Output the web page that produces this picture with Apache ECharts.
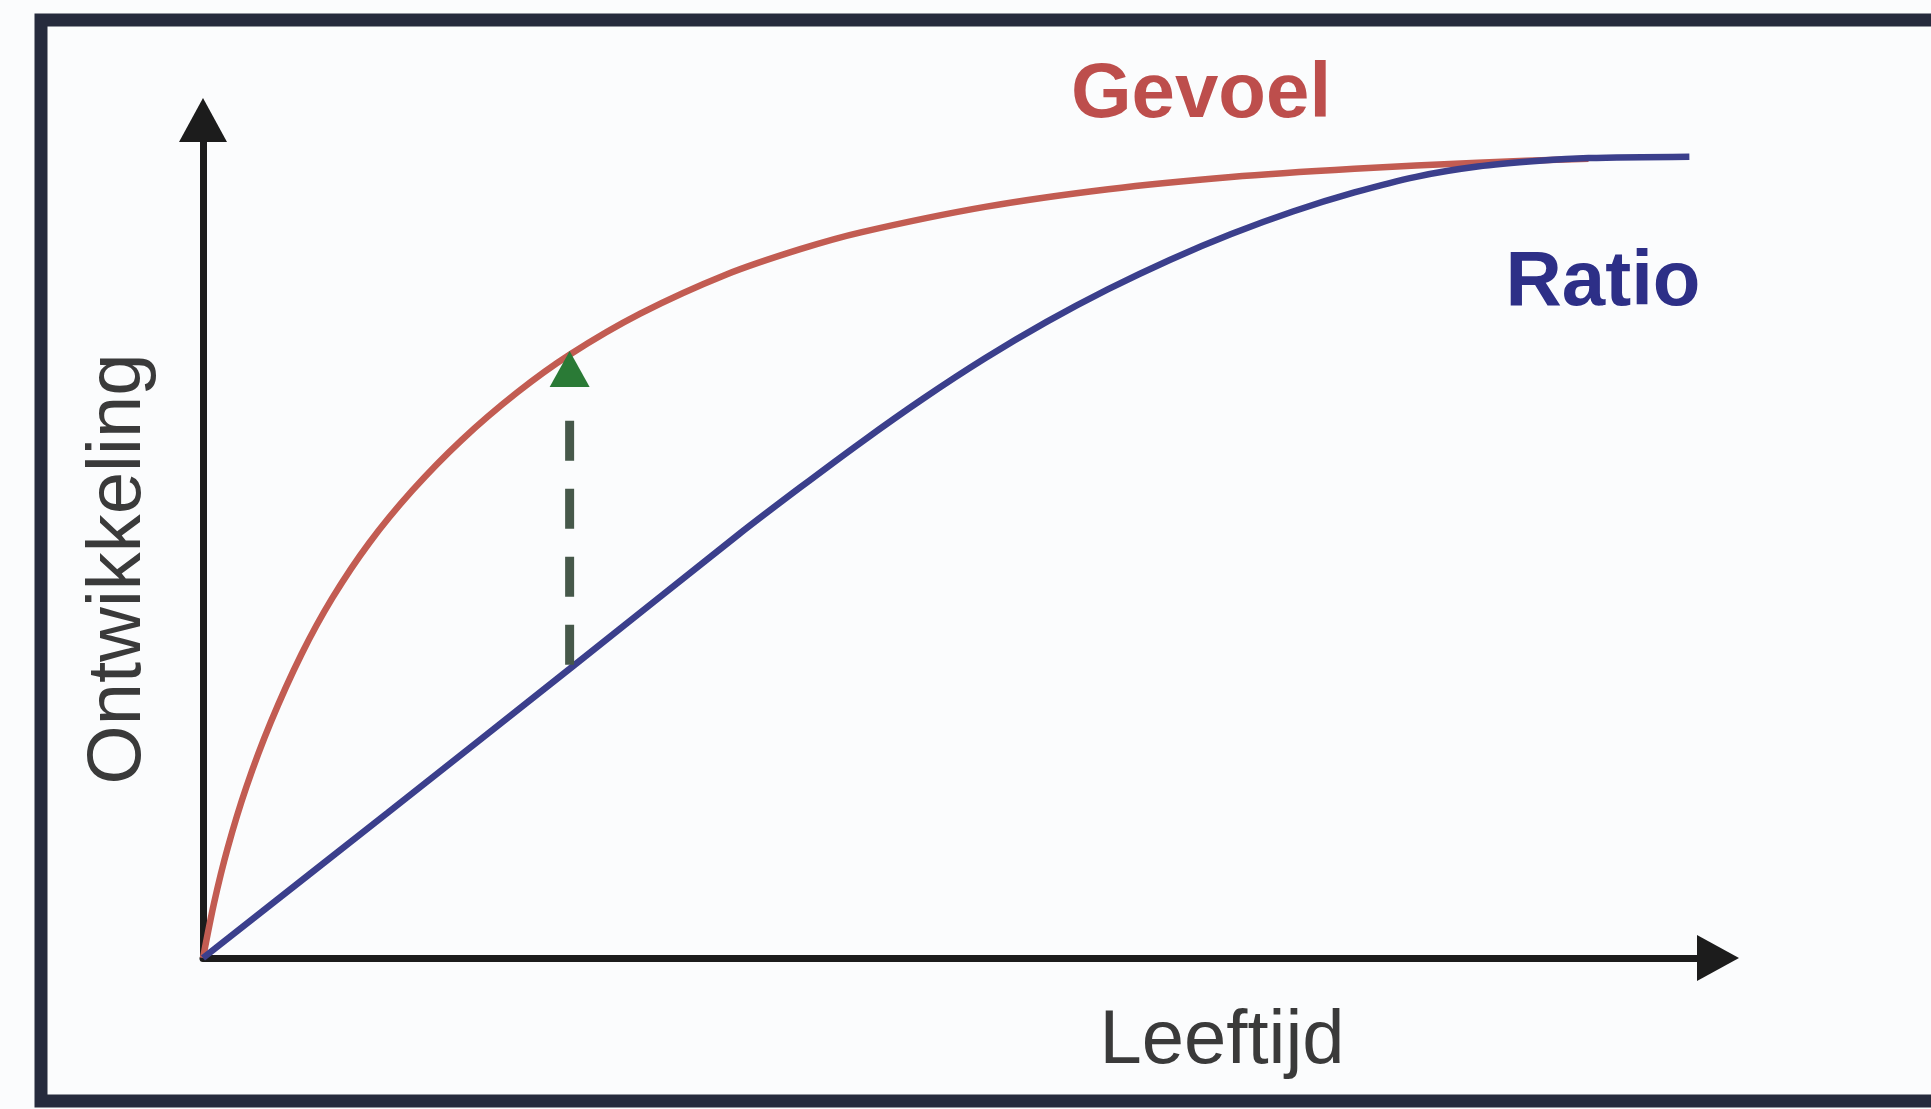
<!DOCTYPE html>
<html>
<head>
<meta charset="utf-8">
<script src="https://cdn.jsdelivr.net/npm/echarts@6/dist/echarts.min.js"></script>
<style>
  html, body { margin: 0; padding: 0; background: #eef3f8; }
  #chart { width: 1931px; height: 1109px; }
</style>
</head>
<body>
<div id="chart"></div>
<script>
// ---- data (arbitrary 0..100 units) ----
const gevoelX = [0, 0.73, 1.63, 2.85, 4.47, 6.50, 8.53, 10.97, 13.82, 17.07, 20.73, 24.22, 28.86, 34.55, 39.42, 43.49, 51.62, 59.75, 67.87, 76.00, 84.13, 91.45];
const gevoelY = [0, 6.57, 13.14, 20.34, 28.12, 36.24, 42.94, 49.53, 55.80, 61.81, 67.48, 72.02, 76.89, 81.56, 84.58, 86.62, 89.63, 91.74, 93.20, 94.18, 94.91, 95.39];
const ratioX = [0, 12.19, 24.22, 35.36, 39.42, 43.49, 47.55, 51.62, 55.68, 59.75, 63.81, 67.87, 71.94, 76.00, 80.07, 84.13, 88.20, 91.45, 98.11];
const ratioY = [0, 17.34, 34.53, 50.55, 56.15, 61.60, 66.76, 71.56, 75.90, 79.81, 83.30, 86.39, 89.08, 91.35, 93.22, 94.44, 95.13, 95.46, 95.62];
const gapX = [24.2, 24.2];
const gapY = [35.0, 65.1];
const gapHead = [24.2, 70.3];
const labelGevoel = 'Gevoel';
const labelRatio = 'Ratio';
const labelX = 'Leeftijd';
const labelY = 'Ontwikkeling';

const zip = (xs, ys) => xs.map((x, i) => [x, ys[i]]);

const chart = echarts.init(document.getElementById('chart'));
const font = '"Liberation Sans", Arial, sans-serif';

chart.setOption({
  backgroundColor: '#fbfcfd',
  animation: false,
  grid: { left: 203, right: 213, top: 120, bottom: 151, containLabel: false },
  xAxis: {
    type: 'value', min: 0, max: 100,
    axisLine: { show: true, symbol: ['none', 'triangle'], symbolSize: [46, 42], lineStyle: { color: '#1c1c1c', width: 7 } },
    axisTick: { show: false }, axisLabel: { show: false }, splitLine: { show: false }
  },
  yAxis: {
    type: 'value', min: 0, max: 100,
    axisLine: { show: true, symbol: ['none', 'triangle'], symbolSize: [48, 44], lineStyle: { color: '#1c1c1c', width: 7 } },
    axisTick: { show: false }, axisLabel: { show: false }, splitLine: { show: false }
  },
  graphic: [
    { type: 'rect', z: 100, silent: true,
      shape: { x: 41, y: 20, width: 2000, height: 1081 },
      style: { fill: 'none', stroke: '#262b3d', lineWidth: 13 } },
    { type: 'text', z: 100, x: 1201, y: 95,
      style: { text: labelGevoel, fill: '#bd4e4c', font: 'bold 78px ' + font, textAlign: 'center', textVerticalAlign: 'middle' } },
    { type: 'text', z: 100, x: 1603, y: 283,
      style: { text: labelRatio, fill: '#2d2f87', font: 'bold 78px ' + font, textAlign: 'center', textVerticalAlign: 'middle' } },
    { type: 'text', z: 100, x: 1222, y: 1042,
      style: { text: labelX, fill: '#3a3a3a', font: '76px ' + font, textAlign: 'center', textVerticalAlign: 'middle' } },
    { type: 'text', z: 100, x: 119, y: 569, rotation: Math.PI / 2,
      style: { text: labelY, fill: '#3a3a3a', font: '76px ' + font, textAlign: 'center', textVerticalAlign: 'middle' } }
  ],
  series: [
    { name: labelGevoel, type: 'line', data: zip(gevoelX, gevoelY), smooth: 0.3,
      showSymbol: false, lineStyle: { color: '#c25c52', width: 6.5 }, z: 2 },
    { name: labelRatio, type: 'line', data: zip(ratioX, ratioY), smooth: 0.3,
      showSymbol: false, lineStyle: { color: '#3b3f8c', width: 6.5 }, z: 3 },
    { name: 'gap', type: 'line', data: zip(gapX, gapY), showSymbol: false,
      lineStyle: { color: '#46584a', width: 9, type: [40, 28], cap: 'butt' }, z: 4 },
    { name: 'gapHead', type: 'scatter', data: [gapHead], symbol: 'triangle', symbolSize: [40, 36],
      itemStyle: { color: '#2a7a36', opacity: 1 }, z: 5 }
  ]
});
</script>
</body>
</html>
